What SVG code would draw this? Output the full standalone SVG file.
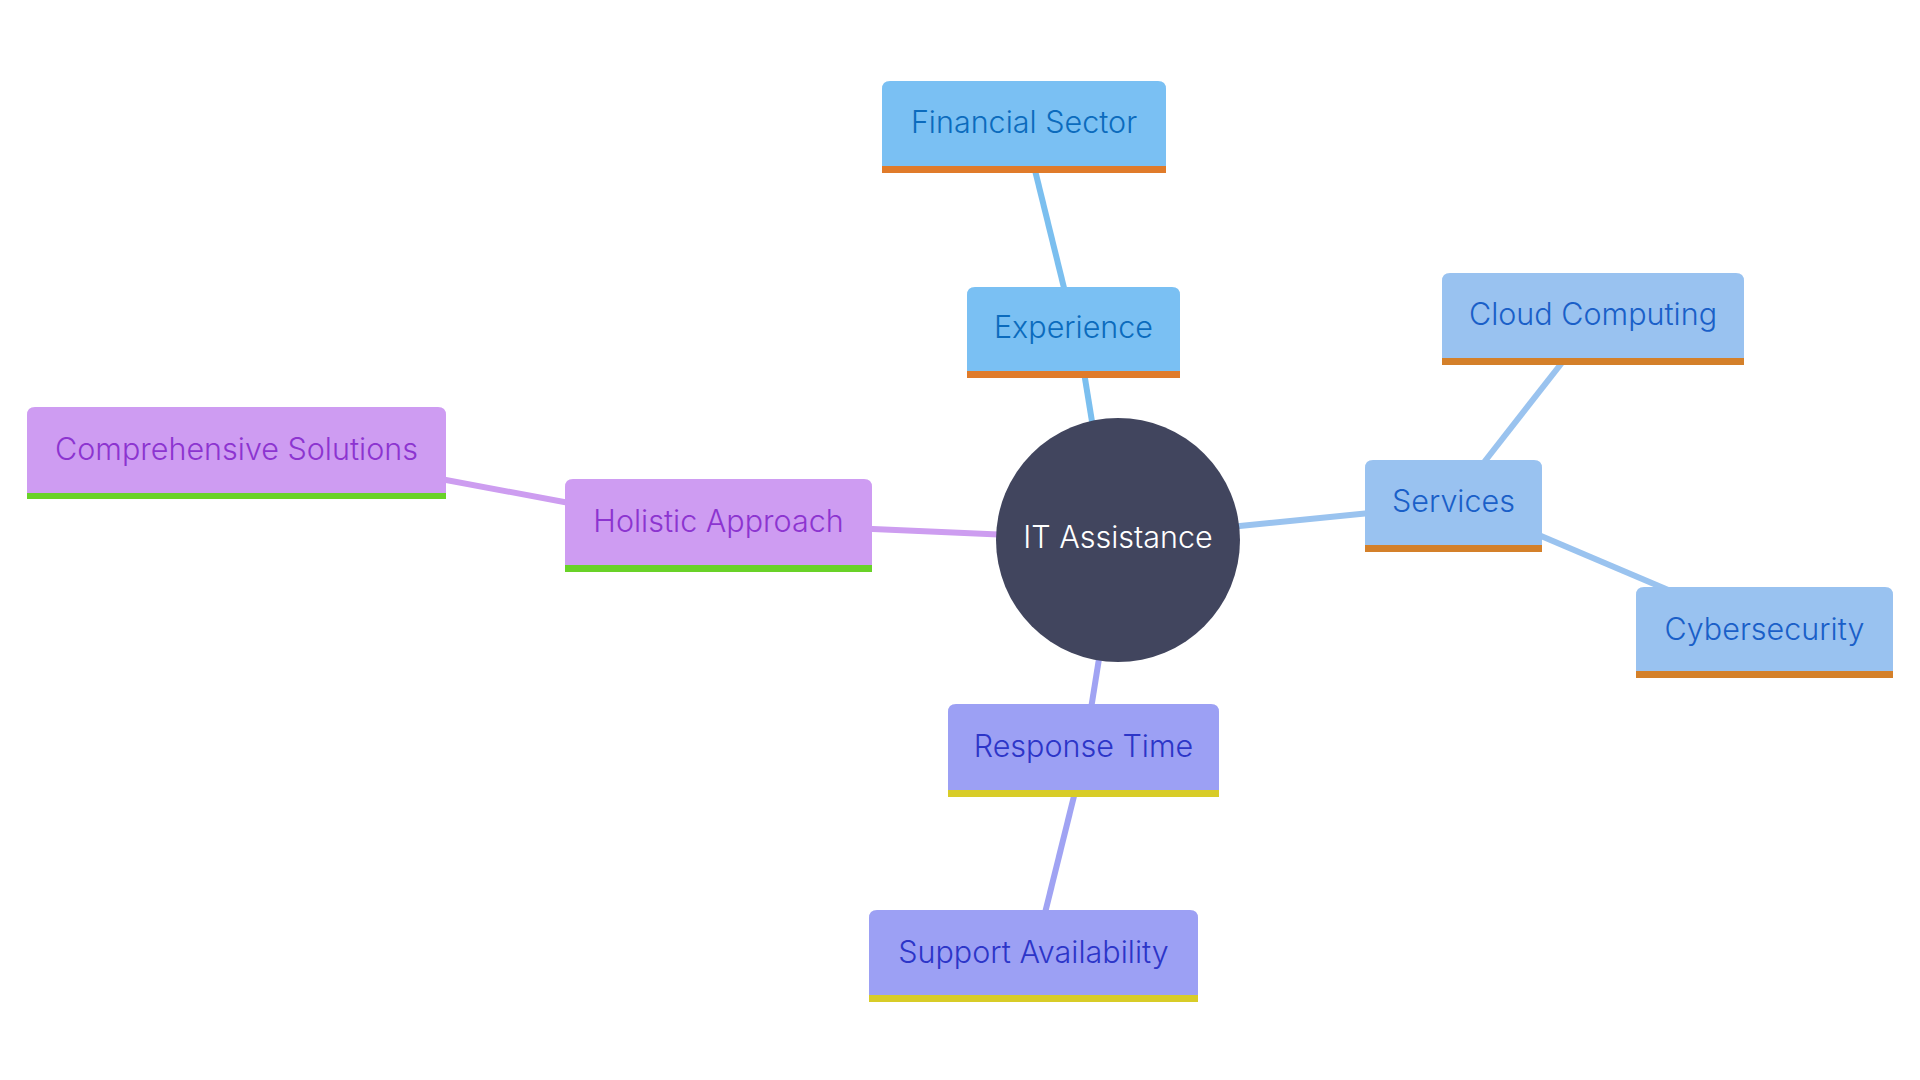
<svg xmlns="http://www.w3.org/2000/svg" width="1920" height="1080" viewBox="0 0 1920 1080">
<style>
text{font-family:Inter,"Noto Sans","Liberation Sans",sans-serif;font-size:30.5px;font-weight:300;text-anchor:middle}
.edge{stroke-width:6;fill:none;stroke-linecap:butt}
.e1{stroke:#7bbfef}.e2{stroke:#9ac3ef}.e3{stroke:#cd9df0}.e4{stroke:#a0a3f3}
.n1{fill:#7ac0f3}.t1{fill:#0b6bbd}
.n2{fill:#99c2f0}.t2{fill:#1a5fc8}
.n3{fill:#ce9cf2}.t3{fill:#8c34d0}
.n4{fill:#9ca0f4}.t4{fill:#2c35c8}
.bo{fill:#e07b2a}.bo2{fill:#d4802a}.bg{fill:#69d228}.by{fill:#d8cc28}
</style>
<rect width="1920" height="1080" fill="#ffffff"/>
<g id="connectors">
<line class="edge e1" x1="1030" y1="150" x2="1067" y2="300"/>
<line class="edge e1" x1="1082" y1="360" x2="1095" y2="440"/>
<line class="edge e2" x1="1220" y1="528" x2="1380" y2="512"/>
<line class="edge e2" x1="1478" y1="470" x2="1568" y2="355"/>
<line class="edge e2" x1="1520" y1="527" x2="1680" y2="595"/>
<line class="edge e3" x1="850" y1="528" x2="1010" y2="535"/>
<line class="edge e3" x1="430" y1="477" x2="580" y2="505"/>
<line class="edge e4" x1="1102" y1="640" x2="1090" y2="715"/>
<line class="edge e4" x1="1078" y1="780" x2="1042" y2="925"/>
</g>
<g id="node-financial">
<path class="n1" d="M882,173 V89 Q882,81 890,81 H1158 Q1166,81 1166,89 V173 Z"/>
<rect class="bo" x="882" y="166" width="284" height="7"/>
<text class="t1" x="1024" y="133">Financial Sector</text>
</g>
<g id="node-experience">
<path class="n1" d="M967,378 V295 Q967,287 975,287 H1172 Q1180,287 1180,295 V378 Z"/>
<rect class="bo" x="967" y="371" width="213" height="7"/>
<text class="t1" x="1073.5" y="338">Experience</text>
</g>
<g id="node-cloud">
<path class="n2" d="M1442,365 V281 Q1442,273 1450,273 H1736 Q1744,273 1744,281 V365 Z"/>
<rect class="bo2" x="1442" y="358" width="302" height="7"/>
<text class="t2" x="1593" y="325">Cloud Computing</text>
</g>
<g id="node-services">
<path class="n2" d="M1365,552 V468 Q1365,460 1373,460 H1534 Q1542,460 1542,468 V552 Z"/>
<rect class="bo2" x="1365" y="545" width="177" height="7"/>
<text class="t2" x="1453.5" y="512">Services</text>
</g>
<g id="node-cybersecurity">
<path class="n2" d="M1636,678 V595 Q1636,587 1644,587 H1885 Q1893,587 1893,595 V678 Z"/>
<rect class="bo2" x="1636" y="671" width="257" height="7"/>
<text class="t2" x="1764.5" y="640">Cybersecurity</text>
</g>
<g id="node-comprehensive">
<path class="n3" d="M27,499 V415 Q27,407 35,407 H438 Q446,407 446,415 V499 Z"/>
<rect class="bg" x="27" y="493" width="419" height="6"/>
<text class="t3" x="236.5" y="460">Comprehensive Solutions</text>
</g>
<g id="node-holistic">
<path class="n3" d="M565,572 V487 Q565,479 573,479 H864 Q872,479 872,487 V572 Z"/>
<rect class="bg" x="565" y="565" width="307" height="7"/>
<text class="t3" x="718.5" y="532">Holistic Approach</text>
</g>
<g id="node-response">
<path class="n4" d="M948,797 V712 Q948,704 956,704 H1211 Q1219,704 1219,712 V797 Z"/>
<rect class="by" x="948" y="790" width="271" height="7"/>
<text class="t4" x="1083.5" y="757">Response Time</text>
</g>
<g id="node-support">
<path class="n4" d="M869,1002 V918 Q869,910 877,910 H1190 Q1198,910 1198,918 V1002 Z"/>
<rect class="by" x="869" y="995" width="329" height="7"/>
<text class="t4" x="1033.5" y="963">Support Availability</text>
</g>
<g id="node-root">
<circle cx="1118" cy="540" r="122" fill="#41455e"/>
<text x="1118" y="548" fill="#ffffff">IT Assistance</text>
</g>
</svg>
